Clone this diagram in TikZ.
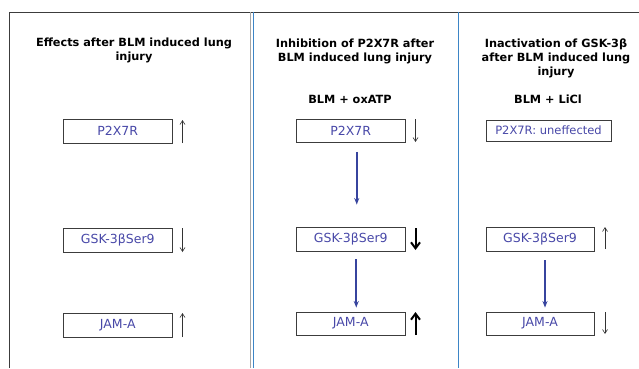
\documentclass[tikz,border=0pt]{standalone}
\usepackage{fontspec}
\setmainfont{DejaVu Sans}
\usetikzlibrary{arrows.meta}
\definecolor{labblue}{RGB}{72,72,168}
\definecolor{conblue}{RGB}{55,68,158}
\definecolor{divblue}{RGB}{61,133,198}
\definecolor{framegray}{RGB}{60,60,60}
\begin{document}
\begin{tikzpicture}[x=1pt,y=-1pt,
  titletext/.style={font=\fontsize{11.3}{13.8}\selectfont\bfseries, align=center, text=black, inner sep=0pt},
  labbox/.style={draw=framegray, line width=0.9pt, fill=white, text=labblue, font=\fontsize{12.5}{14}\selectfont, minimum height=24pt, minimum width=108.5pt, inner sep=0pt},
  thinarrow/.style={draw=black!80, line width=0.6pt, -{Straight Barb[length=4pt,width=5pt]}},
  thickarrow/.style={draw=black, line width=2pt, -{Straight Barb[length=6pt,width=9pt,line width=2pt]}},
  conarrow/.style={draw=conblue, line width=1.6pt, -{Stealth[length=6.5pt,width=5pt]}}
]
\useasboundingbox (0,0) rectangle (639,368);
\fill[white] (0,0) rectangle (639,368);
% frame and dividers
\draw[framegray, line width=1pt] (9,368) -- (9,12) -- (639,12);
\draw[gray!70, line width=0.7pt] (250.5,12) -- (250.5,368);
\draw[divblue, line width=1.5pt] (253.5,12) -- (253.5,368);
\draw[divblue, line width=1.5pt] (458.5,12) -- (458.5,368);

% column 1
\node[titletext] (t1) at (134,50.5) {Effects after BLM induced lung\\injury};
\node[labbox] (a1) at (117.75,131) {P2X7R};
\node[labbox] (a2) at (117.75,240) {GSK-3βSer9};
\node[labbox] (a3) at (117.75,325) {JAM-A};
\coordinate (a1s) at (182.5,143); \coordinate (a1e) at (182.5,120);
\coordinate (a2s) at (182.5,228); \coordinate (a2e) at (182.5,252);
\coordinate (a3s) at (182.5,337); \coordinate (a3e) at (182.5,313);
\draw[thinarrow] (a1s) -- (a1e);
\draw[thinarrow] (a2s) -- (a2e);
\draw[thinarrow] (a3s) -- (a3e);

% column 2
\node[titletext] (t2) at (355,51.5) {Inhibition of P2X7R after\\BLM induced lung injury};
\node[titletext] (s2) at (350,99.5) {BLM + oxATP};
\node[labbox, minimum width=109.5pt, minimum height=23pt] (b1) at (350.75,131) {P2X7R};
\node[labbox, minimum width=109.5pt] (b2) at (350.75,239) {GSK-3βSer9};
\node[labbox, minimum width=109.5pt, minimum height=23pt] (b3) at (350.75,323.5) {JAM-A};
\coordinate (b1s) at (415.5,119); \coordinate (b1e) at (415.5,142);
\coordinate (b2s) at (415.5,228); \coordinate (b2e) at (415.5,250);
\coordinate (b3s) at (415.5,335); \coordinate (b3e) at (415.5,312);
\draw[thinarrow] (b1s) -- (b1e);
\draw[thickarrow] (b2s) -- (b2e);
\draw[thickarrow] (b3s) -- (b3e);
\draw[conarrow] ([xshift=6pt,yshift=-9pt]b1.south) -- ([xshift=6pt,yshift=22pt]b2.north);
\draw[conarrow] ([xshift=5.5pt,yshift=-8pt]b2.south) -- ([xshift=5.5pt,yshift=4pt]b3.north);

% column 3
\node[titletext] (t3) at (556,58.3) {Inactivation of GSK-3β\\after BLM induced lung\\injury};
\node[titletext] (s3) at (548,99.5) {BLM + LiCl};
\node[labbox, minimum width=125pt, minimum height=21pt, font=\fontsize{11.5}{13}\selectfont] (c1) at (548.5,130.5) {P2X7R: uneffected};
\node[labbox, minimum width=108pt] (c2) at (540,239) {GSK-3βSer9};
\node[labbox, minimum width=108pt, minimum height=23pt] (c3) at (540,323.5) {JAM-A};
\coordinate (c2s) at (605,249); \coordinate (c2e) at (605,227);
\coordinate (c3s) at (605,312); \coordinate (c3e) at (605,334);
\draw[thinarrow] (c2s) -- (c2e);
\draw[thinarrow] (c3s) -- (c3e);
\draw[conarrow, line width=2.2pt] ([xshift=5pt,yshift=-9pt]c2.south) -- ([xshift=5pt,yshift=4pt]c3.north);
\end{tikzpicture}
\end{document}
